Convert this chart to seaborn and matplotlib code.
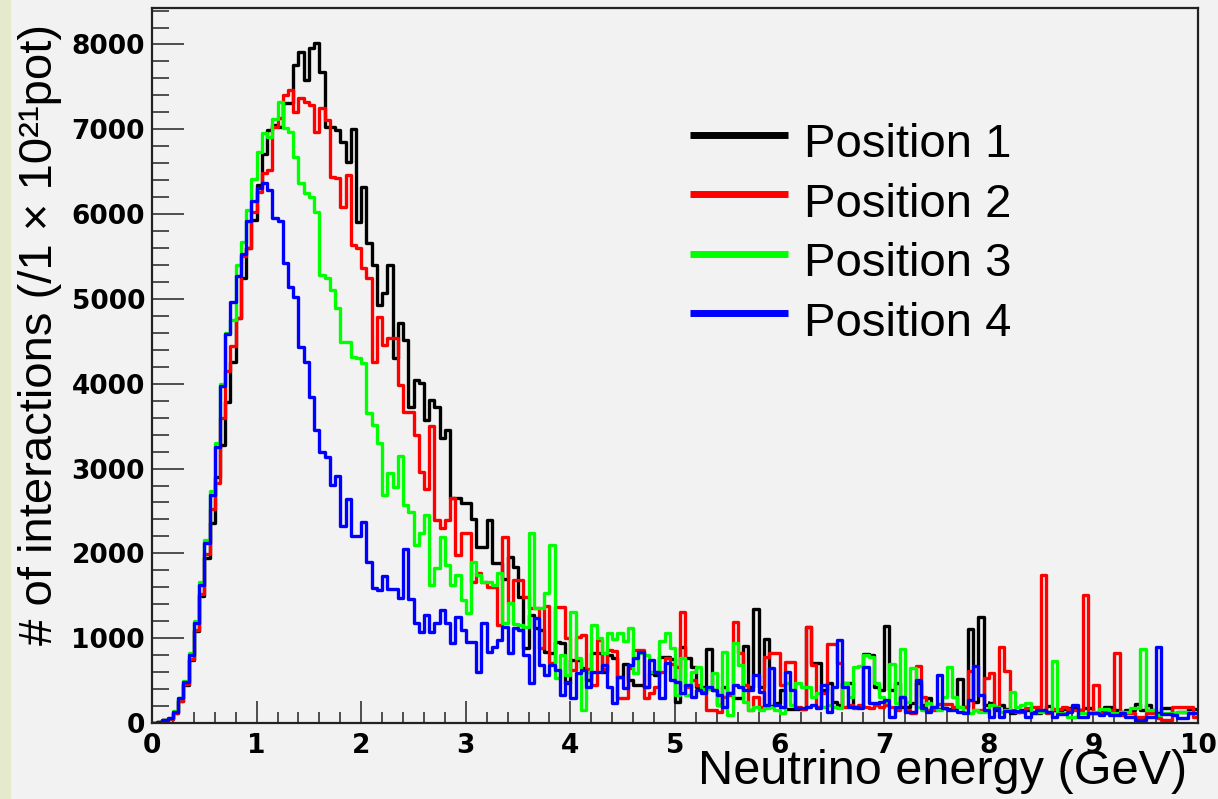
import numpy as np
import pandas as pd
import matplotlib
matplotlib.use("Agg")
import matplotlib.pyplot as plt
import seaborn as sns
from matplotlib.lines import Line2D
from matplotlib.patches import Rectangle
from matplotlib.ticker import MultipleLocator
from matplotlib.legend_handler import HandlerLine2D

# ---------------- data ----------------
e_min, e_max, n_bins = 0.0, 10.0, 200

position_1 = [
    0, 10, 30, 50, 120, 265, 450, 740, 1080, 1500,
    1950, 2355, 2900, 3278, 3789, 4261, 4772, 5244, 5597, 5931,
    6344, 6710, 6993, 7052, 7032, 7315, 7315, 7759, 7917, 7583,
    7956, 8023, 7681, 7032, 7024, 6993, 6855, 6619, 7000, 5912,
    6325, 5656, 5401, 4929, 5067, 5401, 4300, 4713, 4516, 3722,
    4045, 4005, 3573, 3809, 3722, 3357, 3455, 2649, 2649, 2590,
    2590, 2402, 2079, 2072, 2394, 1883, 1883, 1700, 1961, 1843,
    1490, 880, 1274, 1116, 1100, 841, 822, 959, 939, 468,
    743, 743, 645, 507, 822, 822, 600, 802, 763, 540,
    700, 507, 448, 448, 428, 586, 566, 782, 782, 751,
    252, 900, 763, 664, 428, 428, 873, 389, 212, 428,
    350, 291, 291, 908, 430, 1340, 428, 987, 200, 230,
    390, 160, 160, 160, 160, 1136, 711, 711, 390, 470,
    250, 210, 475, 475, 190, 190, 814, 802, 430, 390,
    1144, 390, 470, 190, 190, 230, 470, 210, 290, 160,
    160, 180, 160, 180, 515, 190, 1108, 252, 1254, 212,
    230, 150, 212, 160, 114, 134, 150, 150, 134, 120,
    150, 200, 150, 134, 160, 173, 193, 150, 173, 173,
    114, 134, 193, 193, 150, 134, 150, 150, 224, 150,
    212, 150, 120, 173, 173, 114, 134, 134, 161, 161,
]

position_2 = [
    0, 10, 30, 50, 120, 265, 455, 750, 1100, 1520,
    1990, 2520, 2826, 3593, 4150, 4450, 4772, 5507, 5597, 6030,
    6266, 6482, 6521, 7032, 7131, 7406, 7465, 7209, 7366, 7327,
    7288, 6973, 7248, 7111, 6443, 6423, 6081, 6462, 5637, 5597,
    5362, 5244, 4261, 4792, 4458, 4536, 4536, 3986, 3671, 3671,
    3396, 2964, 2755, 3502, 2394, 2296, 2394, 2649, 1981, 2237,
    2237, 1667, 1765, 1667, 1608, 1608, 1155, 2197, 1411, 1686,
    1686, 1490, 1352, 1352, 880, 1380, 704, 1364, 1364, 998,
    627, 1010, 1037, 640, 448, 979, 640, 861, 853, 291,
    291, 645, 861, 861, 291, 350, 430, 600, 763, 700,
    660, 1313, 428, 510, 448, 390, 153, 153, 134, 312,
    330, 1195, 822, 448, 153, 312, 193, 782, 829, 829,
    448, 723, 723, 193, 161, 1136, 684, 193, 350, 932,
    932, 704, 193, 212, 173, 212, 193, 173, 212, 193,
    212, 193, 153, 311, 153, 114, 672, 311, 153, 153,
    224, 224, 224, 193, 193, 193, 617, 153, 153, 527,
    586, 193, 892, 617, 153, 134, 134, 173, 193, 193,
    1745, 114, 161, 161, 193, 161, 153, 153, 1509, 114,
    448, 114, 153, 153, 822, 94, 114, 114, 75, 75,
    114, 114, 55, 35, 35, 185, 185, 185, 185, 75,
]

position_3 = [
    0, 10, 35, 60, 140, 300, 500, 820, 1200, 1660,
    2160, 2730, 3300, 4000, 4600, 4752, 5401, 5676, 6050, 6411,
    6737, 6954, 6906, 7120, 7327, 7013, 6973, 6678, 6364, 6254,
    6207, 6030, 5283, 5244, 5106, 4890, 4497, 4497, 4320, 4300,
    4241, 3652, 3514, 3306, 2689, 2952, 2779, 3149, 2571, 2492,
    2099, 2237, 2453, 1627, 1824, 2189, 1863, 1627, 1745, 1450,
    1293, 1902, 1745, 1667, 1667, 1627, 1773, 1175, 1419, 1167,
    1156, 1136, 2244, 1352, 1352, 1529, 2099, 527, 802, 566,
    1313, 763, 153, 605, 1156, 998, 822, 1057, 987, 1057,
    971, 1124, 594, 829, 802, 605, 605, 971, 1057, 880,
    330, 763, 330, 605, 664, 400, 400, 586, 212, 841,
    94, 947, 684, 252, 153, 193, 153, 173, 193, 153,
    114, 468, 212, 468, 428, 428, 311, 350, 193, 212,
    193, 173, 468, 311, 664, 672, 802, 782, 468, 311,
    252, 696, 232, 873, 252, 645, 193, 153, 232, 193,
    153, 311, 664, 311, 193, 134, 114, 153, 134, 134,
    212, 193, 134, 153, 370, 193, 212, 240, 114, 134,
    134, 134, 731, 114, 114, 75, 75, 114, 114, 114,
    134, 161, 161, 114, 114, 134, 134, 173, 173, 873,
    153, 153, 94, 114, 114, 114, 134, 134, 114, 114,
]

position_4 = [
    0, 10, 35, 55, 133, 291, 487, 802, 1175, 1627,
    2119, 2689, 3258, 3978, 4587, 4969, 5271, 5531, 5924, 6160,
    6305, 6364, 6285, 5951, 5924, 5421, 5138, 5027, 4438, 4260,
    3848, 3455, 3200, 3133, 2807, 2913, 2323, 2638, 2205, 2205,
    2374, 1903, 1588, 1568, 1733, 1576, 1576, 1470, 2048, 1458,
    1183, 1077, 1274, 1077, 1183, 1333, 1175, 939, 1254, 1097,
    959, 959, 605, 1183, 841, 900, 979, 1136, 822, 1116,
    1097, 802, 468, 1234, 684, 566, 684, 625, 330, 487,
    291, 586, 625, 420, 605, 605, 684, 428, 232, 546,
    409, 684, 763, 833, 428, 743, 605, 291, 704, 507,
    487, 350, 448, 311, 389, 350, 421, 389, 330, 193,
    350, 448, 428, 389, 389, 566, 370, 212, 645, 212,
    193, 605, 389, 173, 173, 193, 212, 173, 448, 134,
    428, 979, 428, 193, 193, 173, 656, 232, 232, 252,
    271, 75, 193, 311, 134, 134, 507, 173, 134, 193,
    566, 173, 153, 153, 134, 114, 271, 672, 330, 153,
    75, 173, 75, 140, 140, 140, 140, 75, 114, 153,
    153, 134, 75, 106, 106, 134, 212, 75, 75, 122,
    114, 94, 114, 94, 94, 114, 75, 75, 35, 35,
    75, 75, 892, 106, 106, 94, 55, 55, 114, 114,
]

series_names = ["Position 1", "Position 2", "Position 3", "Position 4"]
series_colors = ["#000000", "#ff0000", "#00ff00", "#0000ff"]

x_ticks = [0, 1, 2, 3, 4, 5, 6, 7, 8, 9, 10]
y_ticks = [0, 1000, 2000, 3000, 4000, 5000, 6000, 7000, 8000]

bin_width = (e_max - e_min) / n_bins
centers = e_min + bin_width * (np.arange(n_bins) + 0.5)

df = pd.concat(
    [pd.DataFrame({"energy": centers, "count": vals, "position": name})
     for name, vals in zip(series_names, [position_1, position_2, position_3, position_4])],
    ignore_index=True,
)


class RaisedLineHandler(HandlerLine2D):
    """Legend line drawn slightly above the text centre (as in the ROOT legend)."""

    def __init__(self, dy, **kw):
        super().__init__(**kw)
        self.dy = dy

    def create_artists(self, legend, orig_handle, xdescent, ydescent, width,
                       height, fontsize, trans):
        artists = super().create_artists(legend, orig_handle, xdescent, ydescent,
                                         width, height, fontsize, trans)
        for a in artists:
            if isinstance(a, Line2D):
                a.set_ydata(np.asarray(a.get_ydata(), dtype=float) + self.dy)
        return artists


# ---------------- figure ----------------
sns.set_theme(style="ticks")
plt.rcParams["font.family"] = ["Liberation Sans", "DejaVu Sans"]
plt.rcParams["text.color"] = "black"
plt.rcParams["axes.labelcolor"] = "black"
plt.rcParams["xtick.labelcolor"] = "black"
plt.rcParams["ytick.labelcolor"] = "black"

bg = "#f2f2f2"
fig = plt.figure(figsize=(12.18, 7.99), dpi=100, facecolor=bg)
fig.patches.append(Rectangle((0, 0), 11 / 1218, 1, transform=fig.transFigure,
                             facecolor="#e5eacd", edgecolor="none", zorder=0))
ax = fig.add_axes([152 / 1218, 76 / 799, 1046 / 1218, 715 / 799])
ax.set_facecolor(bg)

for name, color in zip(series_names, series_colors):
    sub = df[df["position"] == name]
    sns.histplot(data=sub, x="energy", weights="count", bins=n_bins,
                 binrange=(e_min, e_max), element="step", fill=False,
                 color=color, linewidth=2.4, ax=ax)

ax.set_xlim(e_min, e_max)
ax.set_ylim(0, 8430)
ax.set_xticks(x_ticks)
ax.set_yticks(y_ticks)
ax.xaxis.set_minor_locator(MultipleLocator(0.2))
ax.yaxis.set_minor_locator(MultipleLocator(200))

tick_font = dict(family="DejaVu Sans", weight="bold", size=19, color="black")
ax.set_xticklabels([str(t) for t in x_ticks], fontdict=tick_font)
ax.set_yticklabels([str(t) for t in y_ticks], fontdict=tick_font)

ax.tick_params(axis="both", which="both", direction="in", top=False, right=False,
               color="#222222", width=1.1)
ax.tick_params(axis="y", which="major", length=23, pad=5)
ax.tick_params(axis="y", which="minor", length=12)
ax.tick_params(axis="x", which="major", length=16, pad=7)
ax.tick_params(axis="x", which="minor", length=8)

for s in ax.spines.values():
    s.set_color("#222222")
    s.set_linewidth(1.6)

ax.set_xlabel("Neutrino energy (GeV)", fontsize=35, color="black")
ax.xaxis.set_label_coords(0.9895, -0.068)
ax.xaxis.label.set_ha("right")
ax.xaxis.label.set_va("center")

ax.set_ylabel("# of interactions (/1 × 10²¹pot)", fontsize=34, color="black")
ax.yaxis.set_label_coords(-0.107, 0.978)
ax.yaxis.label.set_rotation_mode("anchor")
ax.yaxis.label.set_ha("right")
ax.yaxis.label.set_va("center")

handles = [Line2D([], [], color=c, lw=5.0, solid_capstyle="butt") for c in series_colors]
ax.legend(handles, series_names, loc="upper left", bbox_to_anchor=(0.514, 0.839),
          frameon=False, fontsize=34, handlelength=2.08, handletextpad=0.35,
          labelspacing=0.33, borderaxespad=0, borderpad=0,
          handler_map={Line2D: RaisedLineHandler(4.3)})

fig.savefig("out.png", dpi=100, facecolor=bg)
